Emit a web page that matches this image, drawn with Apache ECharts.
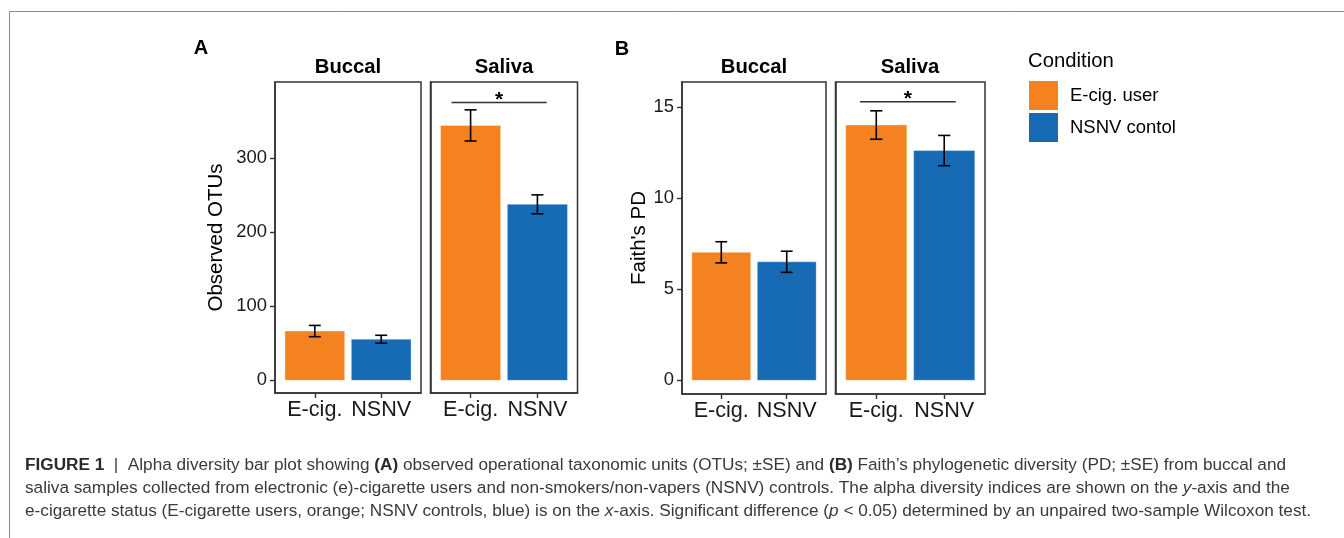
<!DOCTYPE html>
<html><head><meta charset="utf-8">
<script src="https://cdn.jsdelivr.net/npm/echarts@6/dist/echarts.min.js"></script>
<style>html,body{margin:0;padding:0;background:#fff}#c{width:1344px;height:538px}</style>
</head><body><div id="c"></div><script>
// ---------- data ----------
const categories = ['E-cig.', 'NSNV'];
const catPos = [1, 2];
const sites = ['Buccal', 'Saliva'];
const conditions = ['E-cig. user', 'NSNV contol'];
const otuBuccalMean = [66.5, 55.5];
const otuBuccalSE = [7.6, 5.3];
const otuSalivaMean = [344, 237.5];
const otuSalivaSE = [21, 12.8];
const pdBuccalMean = [7.02, 6.5];
const pdBuccalSE = [0.58, 0.58];
const pdSalivaMean = [14.0, 12.6];
const pdSalivaSE = [0.78, 0.83];
const otuTicks = [0, 100, 200, 300];
const pdTicks = [0, 5, 10, 15];
const otuSig = [0.715, 2.14, 375];   // xmin, xmax, y
const pdSig = [0.76, 2.17, 15.28];
const otuRange = [-17.1, 402.6];
const pdRange = [-0.75, 16.36];

// ---------- style ----------
const FF = 'Liberation Sans, Arial, Helvetica, sans-serif';
const colors = ['#F58220', '#176AB4'];
const dark = '#333333';

const grids = [
  {left: 275, top: 82, width: 146, height: 311},
  {left: 430.5, top: 82, width: 147, height: 311},
  {left: 682, top: 82, width: 144, height: 312},
  {left: 835.5, top: 82, width: 149.5, height: 312}
];
const panelMeans = [otuBuccalMean, otuSalivaMean, pdBuccalMean, pdSalivaMean];
const panelSE = [otuBuccalSE, otuSalivaSE, pdBuccalSE, pdSalivaSE];
const panelRange = [otuRange, otuRange, pdRange, pdRange];
const panelTicks = [otuTicks, otuTicks, pdTicks, pdTicks];
const panelSig = [null, otuSig, null, pdSig];
const panelYName = ['Observed OTUs', null, "Faith's PD", null];

function renderBar(params, api) {
  const x = api.value(0), y = api.value(1);
  const p1 = api.coord([x - 0.45, y]);
  const p2 = api.coord([x + 0.45, 0]);
  return {type: 'rect', shape: {x: p1[0], y: p1[1], width: p2[0] - p1[0], height: p2[1] - p1[1]},
    style: {fill: api.visual('color'), stroke: 'rgba(255,255,255,0.35)', lineWidth: 1}};
}
function renderErr(params, api) {
  const x = api.value(0), lo = api.value(1), hi = api.value(2);
  const a = api.coord([x, lo]), b = api.coord([x, hi]);
  const l = api.coord([x - 0.09, lo])[0], r = api.coord([x + 0.09, lo])[0];
  const st = {stroke: '#000', lineWidth: 1.6};
  return {type: 'group', children: [
    {type: 'line', shape: {x1: a[0], y1: a[1], x2: b[0], y2: b[1]}, style: st},
    {type: 'line', shape: {x1: l, y1: a[1], x2: r, y2: a[1]}, style: st},
    {type: 'line', shape: {x1: l, y1: b[1], x2: r, y2: b[1]}, style: st}
  ]};
}
function renderSig(params, api) {
  const a = api.coord([api.value(0), api.value(2)]);
  const b = api.coord([api.value(1), api.value(2)]);
  return {type: 'group', children: [
    {type: 'line', shape: {x1: a[0], y1: a[1], x2: b[0], y2: b[1]}, style: {stroke: dark, lineWidth: 1.5}},
    {type: 'text', style: {text: '*', x: (a[0] + b[0]) / 2, y: a[1] - 2, align: 'center', verticalAlign: 'middle',
      fontSize: 21, fontWeight: 'bold', fontFamily: FF, fill: '#000'}}
  ]};
}

const xAxes = [], yAxes = [], series = [];
grids.forEach((g, gi) => {
  xAxes.push({
    type: 'value', gridIndex: gi, min: 0.4, max: 2.6,
    axisLine: {show: true, onZero: false, lineStyle: {color: dark, width: 1.5}},
    splitLine: {show: false},
    axisTick: {show: true, customValues: catPos, length: 5, lineStyle: {color: dark, width: 1.4}},
    axisLabel: {show: true, customValues: catPos, formatter: v => categories[catPos.indexOf(v)],
      fontSize: 21.6, color: '#1a1a1a', fontFamily: FF, margin: 6}
  });
  const showY = gi === 0 || gi === 2;
  yAxes.push({
    type: 'value', gridIndex: gi, min: panelRange[gi][0], max: panelRange[gi][1],
    show: true,
    axisLine: {show: true, onZero: false, lineStyle: {color: dark, width: 1.5}},
    splitLine: {show: false},
    axisTick: {show: showY, customValues: panelTicks[gi], length: 5, lineStyle: {color: dark, width: 1.4}},
    axisLabel: {show: showY, customValues: panelTicks[gi], fontSize: 18.4, color: '#1a1a1a', fontFamily: FF, margin: 8},
    name: panelYName[gi] || '', nameLocation: 'middle', nameGap: gi === 0 ? 48 : 32,
    nameTextStyle: {fontSize: 20.5, color: '#000', fontFamily: FF}
  });
  const means = panelMeans[gi], se = panelSE[gi];
  conditions.forEach((c, ci) => {
    series.push({type: 'custom', name: c, xAxisIndex: gi, yAxisIndex: gi,
      itemStyle: {color: colors[ci]}, renderItem: renderBar,
      data: [[catPos[ci], means[ci]]], silent: true});
  });
  series.push({type: 'custom', name: 'err' + gi, xAxisIndex: gi, yAxisIndex: gi, renderItem: renderErr,
    data: means.map((m, i) => [catPos[i], m - se[i], m + se[i]]), silent: true, z: 5});
  if (panelSig[gi]) {
    series.push({type: 'custom', name: 'sig' + gi, xAxisIndex: gi, yAxisIndex: gi, renderItem: renderSig,
      data: [panelSig[gi]], silent: true, z: 5});
  }
});

function txt(text, x, y, size, weight, extra) {
  return Object.assign({type: 'text', x: x, y: y, style: {text: text, fontSize: size, fontWeight: weight || 'normal',
    fontFamily: FF, fill: '#000', align: 'center', verticalAlign: 'middle'}}, extra || {});
}
const CAP = 17.2;
const capRich = {b: {fontWeight: 'bold', fontSize: CAP, fontFamily: FF, fill: '#2a2a2a'},
                 i: {fontStyle: 'italic', fontSize: CAP, fontFamily: FF, fill: '#3a3a3a'}};
function capLine(text, y) {
  return {type: 'text', x: 25, y: y, style: {text: text, rich: capRich, fontSize: CAP, fontFamily: FF, fill: '#3a3a3a',
    align: 'left', verticalAlign: 'middle'}};
}
const graphics = [
  {type: 'line', shape: {x1: 9.5, y1: 11.5, x2: 1344, y2: 11.5}, style: {stroke: '#8a8a8a', lineWidth: 1}},
  {type: 'line', shape: {x1: 9.5, y1: 11.5, x2: 9.5, y2: 538}, style: {stroke: '#8a8a8a', lineWidth: 1}},
  txt('A', 201, 48, 20, 'bold'),
  txt('B', 622, 49, 20, 'bold'),
  txt(sites[0], 348, 67, 20.3, 'bold'),
  txt(sites[1], 504, 67, 20.3, 'bold'),
  txt(sites[0], 754, 67, 20.3, 'bold'),
  txt(sites[1], 910, 67, 20.3, 'bold'),
  {type: 'text', x: 1028, y: 61, style: {text: 'Condition', fontSize: 20.3, fontFamily: FF, fill: '#000', align: 'left', verticalAlign: 'middle'}},
  capLine('{b|FIGURE 1}  |  Alpha diversity bar plot showing {b|(A)} observed operational taxonomic units (OTUs; ±SE) and {b|(B)} Faith\u2019s phylogenetic diversity (PD; ±SE) from buccal and', 465),
  capLine('saliva samples collected from electronic (e)-cigarette users and non-smokers/non-vapers (NSNV) controls. The alpha diversity indices are shown on the {i|y}-axis and the', 488),
  capLine('e-cigarette status (E-cigarette users, orange; NSNV controls, blue) is on the {i|x}-axis. Significant difference ({i|p} < 0.05) determined by an unpaired two-sample Wilcoxon test.', 511)
];

const chart = echarts.init(document.getElementById('c'), null, {renderer: 'canvas'});
chart.setOption({
  backgroundColor: '#fff',
  animation: false,
  grid: grids.map(g => Object.assign({show: true, borderColor: dark, borderWidth: 1.5, backgroundColor: 'transparent', outerBoundsMode: 'none'}, g)),
  xAxis: xAxes,
  yAxis: yAxes,
  legend: {data: conditions, orient: 'vertical', left: 1029, top: 81, padding: 0, itemWidth: 29, itemHeight: 29, itemGap: 3,
    icon: 'rect', selectedMode: false, textStyle: {fontSize: 18.5, color: '#000', fontFamily: FF, padding: [0, 0, 0, 7]}},
  series: series,
  graphic: graphics
});
</script></body></html>
